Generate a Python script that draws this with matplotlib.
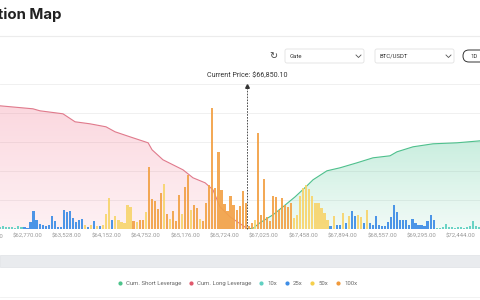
import numpy as np
import matplotlib.pyplot as plt
from matplotlib.patches import FancyBboxPatch, Rectangle
from matplotlib.lines import Line2D

plt.rcParams['font.family'] = ['Roboto', 'DejaVu Sans']

# price bins (category index) that carry a label on the x axis
tick_bins = [-4, 9, 22, 35, 48, 61, 74, 87, 100, 113, 126, 139, 152]
tick_labels = ["$62,214.00", "$62,770.00", "$63,528.00", "$64,152.00", "$64,752.00",
               "$65,176.00", "$65,724.00", "$67,025.00", "$67,458.00", "$67,894.00",
               "$68,557.00", "$69,295.00", "$72,444.00"]

# liquidation volume per price bin (M USD)
liq = [
    4, 6, 4, 4, 4, 2, 6, 4,
    4, 2, 14, 36, 18, 10, 8, 6, 8, 26, 16, 4, 4, 38, 34, 36, 22, 14, 18, 20,
    8, 4, 8, 16, 6, 6, 8, 30, 62, 18, 26, 18, 14, 12, 48, 44, 16, 14, 18, 18, 34,
    124, 60, 56, 40, 72, 90, 30, 20, 36, 16, 68, 30, 84, 108, 38, 48, 42, 20,
    16, 52, 88, 242, 82, 154, 78, 50, 36, 66, 48, 38, 46, 76, 52, 6, 12,
    18,
    192, 28, 100, 24, 16, 66, 64, 38, 62, 48, 44, 52,
    22, 28, 66, 82, 88, 80, 66, 52, 52, 42, 32, 18,
    6, 26, 8, 8, 32, 12, 26, 36, 26, 28, 24, 12, 38,
    12, 8, 26, 8, 6, 6, 14, 24, 48, 34, 18, 18, 18, 8, 20, 12, 8, 8, 6, 16, 28, 18,
    2, 2, 4, 10, 4, 4, 2, 4, 4, 2, 4, 6, 16, 6, 4,
]
# dominant leverage per bin: T=10x, B=25x, Y=50x, O=100x
lev = ("TTTTTTTT" + "B" * 20 + "YBYBYBYYYBYYYYYYOYOOY"
       + "OOOOOYOYOOOYOOYOOY" + "O" * 17 + "Y" + "O" * 12
       + "Y" * 12 + "BYBBYBYBBYYBY" + "B" * 22 + "T" * 15)

# cumulative leverage curves (B USD)
long_bins = [-0.1, 10.8, 13.1, 20.7, 24.7, 29.6, 34.9, 37.9, 42.8, 48.8, 50.1,
             53.7, 57.0, 60.3, 63.6, 67.6, 70.2, 72.5, 75.8, 81.4]
long_cum = [2.47, 2.41, 2.37, 2.31, 2.15, 2.11, 2.05, 1.95, 1.85, 1.73, 1.59,
            1.39, 1.29, 1.19, 1.03, 0.93, 0.79, 0.45, 0.25, 0.02]
short_bins = [81.4, 83.4, 85.7, 90.0, 93.3, 97.3, 101.2, 103.2, 107.8, 112.1,
              117.7, 123.0, 128.6, 130.9, 136.2, 142.8, 150.7, 158.4]
short_cum = [0.01, 0.02, 0.13, 0.29, 0.45, 0.65, 0.87, 0.99, 1.17, 1.23,
             1.33, 1.43, 1.47, 1.55, 1.65, 1.71, 1.73, 1.77]

current_price = "66,850.10"
current_bin = 81.4

lev_colors = {"T": "#5fd0c1", "B": "#3d8de6", "Y": "#f7d56e", "O": "#f2a248"}

fig = plt.figure(figsize=(4.8, 3.0), dpi=100)

# page chrome in pixel coordinates
ui = fig.add_axes([0, 0, 1, 1])
ui.set_xlim(0, 480)
ui.set_ylim(300, 0)
ui.axis('off')
ui.text(62, 15, "Liquidation Map", ha='right', va='center', fontsize=10.8,
        fontweight='bold', color='#222222', family='Inter')
ui.axhline(36, color='#ececec', lw=0.8)
ui.text(273, 56.5, "\u21bb", ha='center', va='center', fontsize=7, color='#444444',
        family='DejaVu Sans')
for x0, label in [(285, "Gate"), (375, "BTC/USDT")]:
    ui.add_patch(FancyBboxPatch((x0, 49), 79, 14, boxstyle='round,pad=0,rounding_size=2',
                                fc='white', ec='#e2e2e2', lw=0.6))
    ui.text(x0 + 5, 56, label, va='center', fontsize=4.3, color='#333333')
    ui.plot([x0 + 71, x0 + 73.5, x0 + 76], [55, 57.5, 55], color='#555555', lw=0.6)
ui.add_patch(FancyBboxPatch((463, 50), 30, 12, boxstyle='round,pad=0,rounding_size=6',
                            fc='white', ec='#333333', lw=0.7))
ui.text(470, 56, "1D", va='center', fontsize=4.3, color='#333333')
ui.add_patch(Rectangle((0, 255), 480, 12, fc='#e9ebee', ec='#dfe2e6', lw=0.5))
ui.axhline(297, color='#f0f0f0', lw=0.6)

# chart
ax = fig.add_axes([0, 70.7 / 300, 1, 145.3 / 300])
ax2 = ax.twinx()

ax2.set_axisbelow(True)
ax2.grid(axis='y', color='#eeeeee', lw=0.6)


def gradient_area(axis, xs, ys, rgb, a_top, a_bottom):
    poly = axis.fill_between(xs, ys, 0, facecolor='none', edgecolor='none')
    grad = np.zeros((100, 1, 4))
    grad[:, 0, :3] = rgb
    grad[:, 0, 3] = np.linspace(a_bottom, a_top, 100)
    img = axis.imshow(grad, extent=[min(xs), max(xs), 0, max(ys)], origin='lower',
                      aspect='auto', zorder=1)
    img.set_clip_path(poly.get_paths()[0], transform=axis.transData)


gradient_area(ax2, long_bins, long_cum, (0.95, 0.45, 0.55), 0.28, 0.10)
gradient_area(ax2, short_bins, short_cum, (0.30, 0.78, 0.58), 0.30, 0.08)
ax2.plot(long_bins, long_cum, color='#e07a8c', lw=0.8, zorder=2)
ax2.plot(short_bins, short_cum, color='#4fc08d', lw=0.8, zorder=2)

bins = np.arange(len(liq))
ax.bar(bins, liq, width=0.72, color=[lev_colors[c] for c in lev], alpha=0.92, zorder=3)

top = 290.6
ax.plot([current_bin, current_bin], [0, top * 0.975], color='#333333', lw=0.6,
        ls=(0, (2, 1.5)), zorder=4, clip_on=False)
ax.plot(current_bin, top * 0.985, marker='^', ms=2.6, color='#333333', zorder=4, clip_on=False)
ax.annotate(f"Current Price: ${current_price}", xy=(current_bin, top), xytext=(0, 5.8),
            textcoords='offset points', ha='center', va='center', fontsize=5.1,
            color='#333333', annotation_clip=False)

ax.set_zorder(ax2.get_zorder() + 1)
ax.patch.set_visible(False)

ax.set_xticks(tick_bins[1:])
ax.set_xticklabels(tick_labels[1:])
ax.tick_params(axis='x', length=0, labelsize=4.3, labelcolor='#999999', pad=3.3)
ax.text(tick_bins[0], -0.053, tick_labels[0], transform=ax.get_xaxis_transform(),
        ha='center', va='center', fontsize=4.3, color='#999999', clip_on=False)
ax.set_yticks([])
ax2.set_yticks(np.linspace(0, 2.906, 6))
ax2.tick_params(length=0, labelright=False)
for a in (ax, ax2):
    for s in a.spines.values():
        s.set_visible(False)
ax.set_xlim(-0.07, 158.3)
ax.set_ylim(0, top)
ax2.set_xlim(-0.07, 158.3)
ax2.set_ylim(0, 2.906)

handles = [Line2D([], [], marker='o', ls='', ms=2, color=c)
           for c in ['#4cc38a', '#e0576b', '#5fd0c1', '#3d8de6', '#f5cf4a', '#f0993a']]
labels = ["Cum. Short Leverage", "Cum. Long Leverage", "10x", "25x", "50x", "100x"]
fig.legend(handles, labels, loc='center', bbox_to_anchor=(0.495, 1 - 283 / 300), ncol=6,
           frameon=False, fontsize=4.3, handlelength=0.5, handletextpad=0.8,
           columnspacing=1.35, labelcolor='#666666', borderpad=0)

fig.savefig("out.png", dpi=100)
